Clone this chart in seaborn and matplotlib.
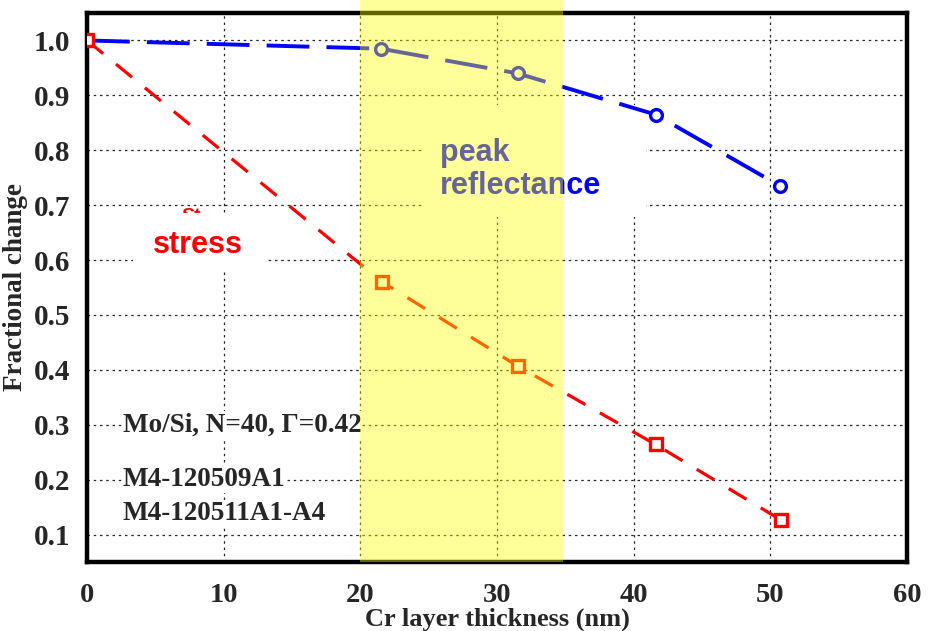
import matplotlib
matplotlib.use("Agg")
import matplotlib.pyplot as plt
import matplotlib.transforms as mtransforms
from matplotlib.patches import Rectangle
import seaborn as sns
import pandas as pd

# ---- data ----
thickness_refl = [0, 21.5, 31.5, 41.6, 50.7]
reflectance = [1.0, 0.985, 0.94, 0.865, 0.735]
thickness_stress = [0, 21.6, 31.5, 41.6, 50.8]
stress = [1.0, 0.56, 0.407, 0.264, 0.126]
highlight_range = [20.0, 34.8]
x_ticks = [0, 10, 20, 30, 40, 50, 60]
y_ticks = [0.1, 0.2, 0.3, 0.4, 0.5, 0.6, 0.7, 0.8, 0.9, 1.0]
y_tick_labels = ["0.1", "0.2", "0.3", "0.4", "0.5", "0.6", "0.7", "0.8", "0.9", "1.0"]

sns.set_style("white")
plt.rcParams["font.family"] = ["Liberation Serif", "DejaVu Serif"]

fig = plt.figure(figsize=(9.46, 6.31), dpi=100)
ax = fig.add_axes([0.092, 0.1094, 0.8668, 0.870])

df_r = pd.DataFrame({"x": thickness_refl, "y": reflectance})
df_s = pd.DataFrame({"x": thickness_stress, "y": stress})

sns.lineplot(data=df_r, x="x", y="y", ax=ax, color="#0000FF", linewidth=2.8,
             linestyle=(0, (11, 4.4)), marker="o", markersize=8.5,
             markerfacecolor="white", markeredgecolor="#0000FF",
             markeredgewidth=2.4, zorder=5)
sns.lineplot(data=df_s, x="x", y="y", ax=ax, color="#FF0000", linewidth=2.3,
             linestyle=(0, (6.5, 5.2)), marker="s", markersize=8.5,
             markerfacecolor="white", markeredgecolor="#FF0000",
             markeredgewidth=2.4, zorder=5)

ax.set_xlim(0, 60)
ax.set_ylim(0.05, 1.05)
ax.set_xticks(x_ticks)
ax.set_yticks(y_ticks)
ax.set_yticklabels(y_tick_labels)
ax.tick_params(axis="both", length=0)
ax.tick_params(axis="y", pad=12, labelsize=21)
ax.tick_params(axis="x", pad=15, labelsize=20.5)
for lab in ax.get_xticklabels() + ax.get_yticklabels():
    lab.set_fontweight("bold")

ax.grid(True, color="black", linestyle=(0, (2, 3)), linewidth=0.9, alpha=0.85)
ax.set_axisbelow(True)
for sp in ax.spines.values():
    sp.set_visible(True)
    sp.set_linewidth(3.2)
    sp.set_color("black")

ax.set_xlabel("Cr layer thickness (nm)", fontsize=19, fontweight="bold", labelpad=0)
ax.set_ylabel("Fractional change", fontsize=19.5, fontweight="bold", labelpad=4)

# white boxes behind the labels
ax.add_patch(Rectangle((3.4, 0.582), 9.8, 0.104, facecolor="white",
                       edgecolor="none", zorder=3))
ax.add_patch(Rectangle((24.5, 0.679), 16.4, 0.204, facecolor="white",
                       edgecolor="none", zorder=3))

ax.text(7.6, 0.694, "St", color="#FF0000", fontsize=14, family="Liberation Sans",
        fontweight="bold", ha="center", va="top", zorder=2.8)
ax.text(8.1, 0.628, "stress", color="#FF0000", fontsize=22, family="Liberation Sans",
        fontweight="bold", ha="center", va="center", zorder=4)
ax.text(25.8, 0.823, "peak\nreflectance", color="#0000FF", fontsize=22,
        family="Liberation Sans", fontweight="bold", ha="left", va="top",
        linespacing=1.15, zorder=4)

box = dict(facecolor="white", edgecolor="none", pad=0.5)
ax.text(2.6, 0.30, "Mo/Si, N=40, \u0393=0.42", fontsize=19.5, fontweight="bold",
        ha="left", va="center", zorder=4, bbox=box)
ax.text(2.6, 0.20, "M4-120509A1", fontsize=19.5, fontweight="bold",
        ha="left", va="center", zorder=4, bbox=box)
ax.text(2.6, 0.138, "M4-120511A1-A4", fontsize=19.5, fontweight="bold",
        ha="left", va="center", zorder=4, bbox=box)

# translucent yellow highlight band, drawn over everything
trans = mtransforms.blended_transform_factory(ax.transData, fig.transFigure)
ax.add_patch(Rectangle((highlight_range[0], 0.1094),
                       highlight_range[1] - highlight_range[0], 1 - 0.1094,
                       transform=trans, facecolor=(1, 1, 0), alpha=0.4,
                       edgecolor="none", zorder=10, clip_on=False))

fig.savefig("out.png", dpi=100)
